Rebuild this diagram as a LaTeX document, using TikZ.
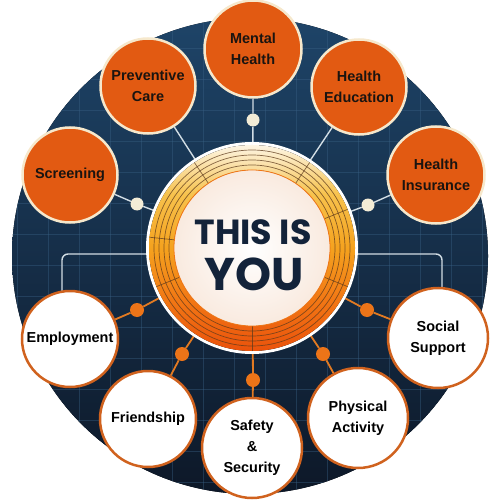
\documentclass[tikz,border=0pt]{standalone}
\usepackage{fontspec}
\setmainfont{Liberation Sans}
\newfontfamily\popfont{Poppins}
\usetikzlibrary{calc}
\definecolor{bgTop}{HTML}{1E4468}
\definecolor{bgBot}{HTML}{0D1828}
\definecolor{gridc}{HTML}{3A6286}
\definecolor{bubOrange}{HTML}{E25A12}
\definecolor{bubCream}{HTML}{F6E8CC}
\definecolor{ringOrange}{HTML}{D0621E}
\definecolor{labDark}{HTML}{1A1410}
\definecolor{lineLight}{HTML}{D2DDE4}
\definecolor{lineOrange}{HTML}{E27A22}
\definecolor{dotCream}{HTML}{F3ECD6}
\definecolor{dotOrange}{HTML}{EC7418}
\definecolor{ringA}{HTML}{FDF5E4}
\definecolor{ringB}{HTML}{F7C24C}
\definecolor{ringC}{HTML}{F5A21E}
\definecolor{ringD}{HTML}{F27614}
\definecolor{ringE}{HTML}{EA520C}
\definecolor{ringLine}{HTML}{5E3A1C}
\definecolor{innerEdge}{HTML}{F9EADF}
\definecolor{titleC}{HTML}{13233A}
\pgfdeclareverticalshading{ringshade}{100bp}{color(0bp)=(ringE); color(25bp)=(ringE); color(37bp)=(ringD); color(50bp)=(ringC); color(63bp)=(ringB); color(75bp)=(ringA); color(100bp)=(ringA)}
\begin{document}
\begin{tikzpicture}[x=1bp,y=-1bp,
  lab/.style={font=\fontsize{14.5}{21}\selectfont\bfseries,text=labDark,align=center},
  orangebub/.style={lab,circle,fill=bubOrange,draw=bubCream,line width=2.5bp,minimum size=95bp,inner sep=0pt},
  whitebub/.style={lab,circle,fill=white,draw=ringOrange,line width=2.5bp,minimum size=98bp,inner sep=0pt,text=black},
  topline/.style={draw=lineLight,line width=1.4bp},
  botline/.style={draw=lineOrange,line width=1.8bp},
  creamdot/.style={circle,fill=dotCream,inner sep=0pt,minimum size=13bp},
  orangedot/.style={circle,fill=dotOrange,inner sep=0pt,minimum size=14bp},
  bracket/.style={draw=lineLight,line width=1.4bp,rounded corners=6bp},
  ringline/.style={draw=ringLine,line width=0.7bp,opacity=0.75}]
\useasboundingbox (0,0) rectangle (500,500);
% background disk
\fill[top color=bgTop,bottom color=bgBot] (250,256) circle (238);
\begin{scope}
  \clip (250,256) circle (238);
  \foreach \g in {17,48,...,500} {
    \draw[gridc,line width=0.6bp,opacity=0.4] (\g,0) -- (\g,500);
    \draw[gridc,line width=0.6bp,opacity=0.4] (0,\g) -- (500,\g);
  }
\end{scope}
% centre node (placeholder for connectors)
\node[circle,minimum size=208bp,inner sep=0pt] (you) at (252,248) {};
% bracket lines
\coordinate (bl1) at (62,292);
\coordinate (bl2) at (62,254);
\coordinate (bl3) at (250,254);
\coordinate (br1) at (442,289);
\coordinate (br2) at (442,254);
\draw[bracket] (bl1) -- (bl2) -- (bl3) -- (br2) -- (br1);
% bubbles
\node[orangebub,minimum size=97bp] (mh) at (253,49) {Mental\\Health};
\node[orangebub] (pc) at (148,86) {Preventive\\Care};
\node[orangebub] (sc) at (70,175) {Screening};
\node[orangebub] (he) at (359,87) {Health\\Education};
\node[orangebub,minimum size=97bp] (hi) at (436,175) {Health\\Insurance};
\node[whitebub,minimum size=96bp] (em) at (70,339) {Employment};
\node[whitebub,minimum size=96bp] (fr) at (148,419) {Friendship};
\node[whitebub,minimum size=100bp] (ss) at (252,448) {Safety\\\&\\Security};
\node[whitebub,minimum size=100bp] (pa) at (358,418) {Physical\\Activity};
\node[whitebub,minimum size=100bp] (so) at (438,338) {Social\\Support};
% dots
\node[creamdot] (dmh) at (253,120) {};
\node[creamdot] (dsc) at (137,204) {};
\node[creamdot] (dhi) at (368,205) {};
\node[orangedot] (dem) at (137,310) {};
\node[orangedot] (dfr) at (182,354) {};
\node[orangedot] (dss) at (253,380) {};
\node[orangedot] (dpa) at (323,354) {};
\node[orangedot] (dso) at (367,310) {};
% connectors
\draw[topline] (mh) -- (dmh) -- (you);
\draw[topline] (pc) -- (you);
\draw[topline] (sc) -- (dsc) -- (you);
\draw[topline] (he) -- (you);
\draw[topline] (hi) -- (dhi) -- (you);
\draw[botline] (em) -- (dem) -- (you);
\draw[botline] (fr) -- (dfr) -- (you);
\draw[botline] (ss) -- (dss) -- (you);
\draw[botline] (pa) -- (dpa) -- (you);
\draw[botline] (so) -- (dso) -- (you);
% centre ring
\fill[white] (you.center) circle (106);
\fill[shading=ringshade] (you.center) circle (103);
\foreach \r in {83,88,93,98} \draw[ringline] (you.center) circle (\r);
\foreach \a in {90,158,186,236,304,338,22} \draw[ringline] ($(you.center)+(\a:78)$) -- ($(you.center)+(\a:103)$);
\fill[inner color=white,outer color=innerEdge] (you.center) circle (78);
\draw[ringD,line width=0.8bp] (you.center) circle (78);
\node[font=\popfont\bfseries\fontsize{35}{40}\selectfont,text=titleC,align=center] (title) at (253,232) {THIS IS};
\node[font=\popfont\bfseries\fontsize{46}{50}\selectfont,text=titleC] (title2) at (254,274) {YOU};
\end{tikzpicture}
\end{document}
